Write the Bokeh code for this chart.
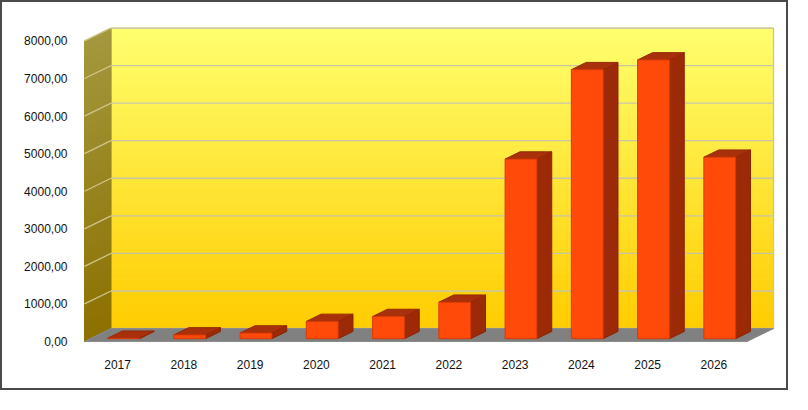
from bokeh.plotting import figure
from bokeh.models import Range1d, FixedTicker, CustomJSTickFormatter, ColumnDataSource
from bokeh.embed import file_html
from bokeh.resources import INLINE

# ---- data ----
years = ["2017", "2018", "2019", "2020", "2021", "2022", "2023", "2024", "2025", "2026"]
values = [10, 100, 150, 460, 590, 970, 4780, 7160, 7420, 4830]
y_ticks = [0, 1000, 2000, 3000, 4000, 5000, 6000, 7000, 8000]
y_max = 8000

# ---- 3D geometry (in data units) ----
n = len(years)
DX = 0.40          # depth offset along x (category units)
DY = 345.0         # depth offset along y (value units)
f_front, f_back = 0.22, 0.78
bar_half = 0.24

W, H = 788, 390
p = figure(width=W, height=H, output_backend="svg", toolbar_location=None,
           x_range=Range1d(-0.515, 9.914), y_range=Range1d(-26, 8358),
           min_border_left=81, min_border_right=16, min_border_top=25, min_border_bottom=50)
p.styles = {"border": "2px solid #4a4a4a"}
p.background_fill_color = "white"
p.border_fill_color = "white"
p.outline_line_color = None
p.xgrid.visible = False
p.ygrid.visible = False

def mix(c1, c2, t):
    return "#%02x%02x%02x" % tuple(int(round(a + (b - a) * t)) for a, b in zip(c1, c2))

# back wall gradient stripes
nst = 80
top_c, bot_c = (255, 255, 110), (255, 204, 0)
sl, sr, sb, st, sc = [], [], [], [], []
for k in range(nst):
    v0 = y_max * k / nst
    v1 = y_max * (k + 1) / nst
    sl.append(-0.5 + DX); sr.append(n - 0.5 + DX)
    sb.append(v0 + DY); st.append(v1 + DY)
    sc.append(mix(bot_c, top_c, (k + 0.5) / nst))
p.quad(left=sl, right=sr, bottom=sb, top=st, fill_color=sc, line_color=sc, line_width=1)
p.quad(left=[-0.5 + DX], right=[n - 0.5 + DX], bottom=[DY], top=[y_max + DY],
       fill_color=None, line_color="#cfc68e", line_width=1.5)

# side wall gradient
side_top, side_bot = (163, 152, 62), (140, 112, 0)
wxs, wys, wc = [], [], []
for k in range(nst):
    v0 = y_max * k / nst
    v1 = y_max * (k + 1) / nst
    wxs.append([-0.5, -0.5 + DX, -0.5 + DX, -0.5])
    wys.append([v0, v0 + DY, v1 + DY, v1])
    wc.append(mix(side_bot, side_top, (k + 0.5) / nst))
p.patches(xs=wxs, ys=wys, fill_color=wc, line_color=wc, line_width=1)

# floor
p.patch(x=[-0.5, n - 0.5, n - 0.5 + DX, -0.5 + DX], y=[0, 0, DY, DY],
        fill_color="#808080", line_color="#8a8a8a")

# gridlines
for v in y_ticks[1:]:
    p.line(x=[-0.5 + DX, n - 0.5 + DX], y=[v + DY, v + DY], line_color="#c8c4a8", line_width=1.3)
    p.line(x=[-0.5, -0.5 + DX], y=[v, v + DY], line_color="#cfc48a", line_width=1.3)

# bars
ox, oy = f_front * DX, f_front * DY
dox, doy = (f_back - f_front) * DX, (f_back - f_front) * DY
L = [i + ox - bar_half for i in range(n)]
R = [i + ox + bar_half for i in range(n)]
side_xs, side_ys, top_xs, top_ys = [], [], [], []
for i, v in enumerate(values):
    side_xs.append([R[i], R[i] + dox, R[i] + dox, R[i]])
    side_ys.append([oy, oy + doy, v + oy + doy, v + oy])
    top_xs.append([L[i], R[i], R[i] + dox, L[i] + dox])
    top_ys.append([v + oy, v + oy, v + oy + doy, v + oy + doy])
p.patches(xs=side_xs, ys=side_ys, fill_color="#9c2a06", line_color="#8a2404", line_width=1)
p.patches(xs=top_xs, ys=top_ys, fill_color="#a8300a", line_color="#952806", line_width=1)
src = ColumnDataSource(dict(left=L, right=R, bottom=[oy] * n, top=[v + oy for v in values]))
p.quad(left="left", right="right", bottom="bottom", top="top", source=src,
       fill_color="#ff4a0a", line_color="#d83a06", line_width=1)

# axes
p.yaxis.ticker = FixedTicker(ticks=y_ticks)
p.yaxis.formatter = CustomJSTickFormatter(code="return tick.toFixed(2).replace('.', ',');")
p.xaxis.ticker = FixedTicker(ticks=list(range(n)))
p.xaxis.major_label_overrides = {i: y for i, y in enumerate(years)}
for ax in (p.xaxis, p.yaxis):
    ax.axis_line_color = None
    ax.major_tick_line_color = None
    ax.minor_tick_line_color = None
    ax.major_label_text_font = "Liberation Sans"
    ax.major_label_text_font_size = "12px"
    ax.major_label_text_color = "#111111"
p.yaxis.major_label_standoff = 10
p.xaxis.major_label_standoff = 11

open("out.html", "w").write(file_html(p, INLINE))
